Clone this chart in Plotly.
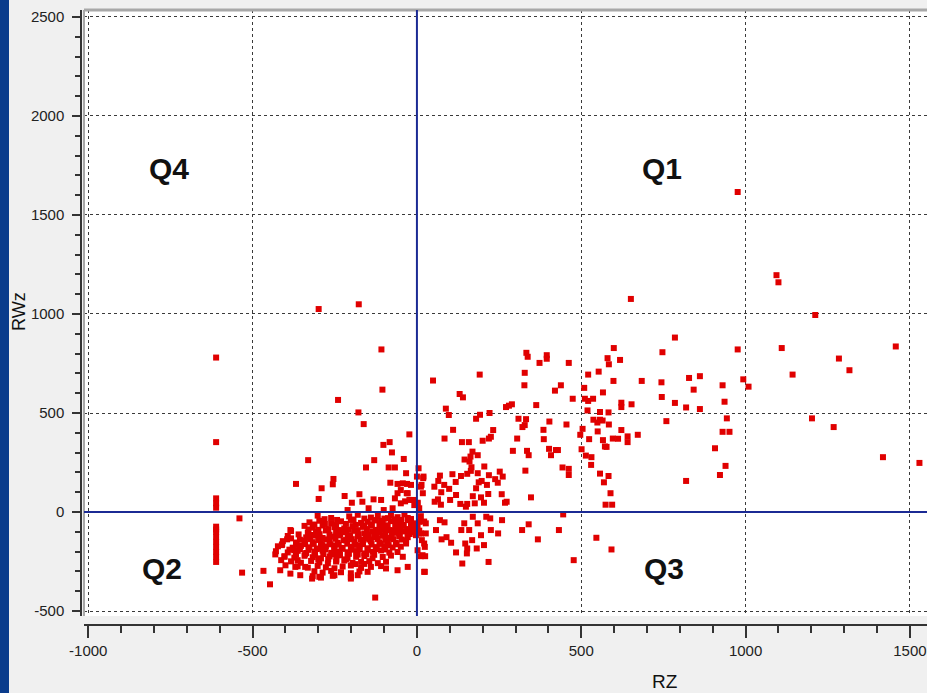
import plotly.graph_objects as go

# ---------------- data ----------------
# column of points at RZ ~ -611 (Q2)
rz_col = [-611, -611, -611, -611, -611, -611, -611, -611, -611, -611, -611, -611, -611, -611]
rwz_col = [780, 353, 69, 44, 22, -74, -100, -125, -150, -176, -201, -226, -252, -88]

# negative RZ, positive RWz (Q4 side)
rz_q4 = [-299, -177, -108, -105, -240, -178, -162, -23, -331, -254,
         -256, -290, -299, -368, -102, -83, -76, -130, -155, -86,
         -67, -40, -220, -198, -175, -166, -132, -147, -81, -59,
         -43, -18, -31, -59, -67, -49, -23, -8, -211, -109,
         -101, -74, -33, -30, -49, -28, -36, -12]
rwz_q4 = [1025, 1049, 821, 618, 566, 503, 444, 392, 262, 167,
          140, 120, 66, 142, 339, 353, 301, 262, 225, 225,
          225, 268, 81, 47, 90, 52, 64, 19, 148, 142,
          145, 137, 95, 95, 69, 44, 61, 35, 10, 61,
          10, 19, 196, 142, 111, 95, 54, 61]

# lower-left fringe of the cluster
rz_fringe = [-540, -532, -467, -447, -127, -431, -413, -416, -403, -400,
             -385, -383, -411, -373, -363, -355, -370, -385, -340, -319,
             -297, -251, -201, -180, -150, -94, -59, -28, 22, 17, 22, 12]
rwz_fringe = [-32, -306, -297, -365, -432, -214, -243, -294, -226, -269,
              -91, -133, -167, -193, -243, -319, -277, -311, -277, -336,
              -327, -319, -336, -319, -302, -285, -294, -277, -302, -218, -159, -108]

# dense core of the cluster (Q2)
rz_core = [-302, -261, -206, -180, -140, -119, -99, -79, -59, -38, -18, 12,
           -327, -297, -261, -231, -201, -170, -150, -125, -104, -79, -54, -28, -8, 22,
           -342, -317, -287, -251, -221, -196, -165, -140, -109, -89, -64, -44, -18, 2,
           -383, -332, -307, -277, -246, -216, -190, -160, -135, -114, -89, -69, -38, -13, 7,
           -393, -337, -312, -287, -261, -236, -211, -180, -155, -130, -104, -79, -54, -28, -3,
           -408, -368, -342, -317, -292, -266, -241, -216, -190, -165, -140, -114, -89, -64, -33,
           -423, -378, -353, -327, -302, -277, -251, -226, -201, -175, -150, -125, -99, -74, -49,
           -429, -393, -363, -337, -312, -287, -261, -236, -211, -185, -160, -135, -109, -84, -59,
           -403, -373, -342, -317, -292, -266, -241, -211, -185, -160, -135, -104, -79,
           -383, -353, -322, -297, -271, -246, -221, -196, -170, -145, -119, -94,
           -363, -332, -302, -277, -251, -226, -201, -170, -140, -109,
           -312, -287, -261, -231, -201, -175,
           -317, -292, -256, -201]
rwz_core = [-18, -30, -22, -14, -28, -20, -33, -16, -26, -12, -35, -21,
            -52, -44, -58, -47, -40, -55, -49, -42, -60, -46, -53, -41, -57, -48,
            -70, -79, -68, -77, -83, -71, -75, -66, -80, -72, -78, -69, -82, -74,
            -96, -104, -99, -93, -106, -101, -95, -108, -97, -103, -92, -105, -98, -102, -94,
            -121, -128, -119, -131, -124, -118, -129, -122, -133, -126, -120, -130, -123, -127, -117,
            -147, -154, -145, -152, -158, -148, -155, -143, -151, -157, -146, -153, -149, -156, -144,
            -173, -180, -171, -178, -184, -174, -169, -181, -176, -170, -183, -177, -172, -179, -175,
            -198, -204, -196, -207, -200, -195, -206, -199, -203, -197, -209, -201, -194, -205, -202,
            -223, -230, -221, -228, -234, -224, -219, -231, -226, -222, -233, -227, -220,
            -249, -256, -247, -254, -259, -250, -245, -257, -252, -248, -258, -251,
            -274, -281, -272, -279, -284, -275, -270, -282, -277, -273,
            -299, -306, -297, -304, -309, -300,
            -324, -331, -322, -329]

# extra core points that fill the gaps between the rows above
rz_fill = [-281, -243, -193, -160, -129, -109, -88, -68, -48, -28,
           -312, -280, -246, -216, -186, -160, -137, -114, -92, -66, -40, -18,
           -330, -300, -270, -236, -207, -180, -152, -125, -99, -76, -54, -30, -6,
           -360, -320, -296, -266, -233, -203, -177, -147, -122, -97, -77, -52, -22,
           -395, -356, -325, -300, -275, -248, -223, -198, -171, -145, -120, -96, -72, -46,
           -410, -366, -340, -314, -288, -263, -238, -212, -188, -164, -138, -111, -86, -62,
           -388, -356, -330, -305, -279, -252, -228, -200, -174, -150, -122, -96,
           -368, -340, -310, -285, -258, -234, -207, -180, -155, -130,
           -300, -270, -245, -216, -188, -160]
rwz_fill = [-36, -40, -38, -33, -41, -44, -31, -37, -40, -30,
            -63, -61, -66, -60, -65, -68, -62, -64, -67, -61, -65, -63,
            -88, -90, -86, -91, -89, -92, -86, -90, -87, -91, -88, -86, -90,
            -113, -116, -112, -114, -111, -117, -113, -115, -110, -116, -112, -114, -111,
            -138, -140, -136, -141, -138, -135, -142, -137, -140, -139, -136, -141, -137, -139,
            -163, -166, -162, -161, -167, -163, -165, -160, -166, -162, -164, -161, -167, -163,
            -190, -188, -191, -187, -189, -192, -186, -190, -188, -191, -187, -189,
            -215, -213, -216, -212, -214, -217, -211, -215, -213, -216,
            -240, -238, -241, -239, -263, -262]

# points just right of the origin
rz_near = [5, 0, 2, 20, 14, 18, 70, 65, 53, 83, 74, 64, 54, 73, 108, 134, 118, 98, 119, 101,
           132, 145, 160, 169, 163, 166, 164, 153, 185, 188, 197, 180, 170, 195, 153, 176, 149, 205, 213, 217,
           204, 238, 246, 252, 261, 258, 268, 273, 219, 185, 12, 19, 7, 2,
           7, 27, 7, 27, 15, 24, 12, 25, 24, 2, -10, -28, -49, -33, -43, 70, 84, 58, 75, 90,
           104, 119, 138, 152, 147, 135, 144, 159, 170, 185, 195, 182, 218, 211, 225, 223, 247, 259, 204, 168, 153]
rwz_near = [221, 179, 44, 179, 137, 95, 184, 157, 128, 137, 100, 64, 52, 37, 191, 182, 152, 117, 86, 61,
            41, 265, 255, 305, 280, 226, 208, 193, 196, 150, 157, 120, 80, 74, 41, 44, 27, 230, 137, 91,
            47, 166, 148, 204, 179, 90, 47, 52, 186, 287, 128, 171, 19, 47,
            -49, -57, -108, -108, -142, -176, -223, -223, -302, -193, -83, -108, -74, -159, -226, -41, -52, -91, -138, -127,
            -155, -204, -260, -209, -159, -91, -57, -91, -24, -57, -117, -184, -252, -24, -91, -32, -108, -41, -167, -142, -184]

# middle spread (0 < RZ < 700)
rz_mid = [49, 191, 328, 327, 420, 333, 337, 395, 395, 373, 130, 140, 363, 271, 280, 289,
          88, 97, 192, 221, 180, 309, 332, 328, 321, 403, 385, 549, 550, 577,
          110, 84, 137, 158, 200, 219, 225, 232, 305, 386, 292, 335, 340, 402, 408, 423, 429,
          330, 589, 574, 594, 347, 445, 320, 340, 368, 432, 477, 546, 592]
rwz_mid = [664, 694, 703, 640, 613, 804, 784, 792, 774, 753, 596, 579, 540, 530, 537, 544,
           522, 490, 491, 500, 471, 471, 469, 439, 429, 457, 415, 452, 407, 329,
           415, 371, 353, 353, 360, 371, 380, 414, 371, 368, 309, 309, 287, 319, 287, 313, 313,
           209, 95, 37, 37, 74, -12, -91, -62, -138, -91, -243, -130, -189]

# right spread (RZ > 430)
rz_right = [976, 1094, 1100, 651, 1212, 785, 976, 747, 1110, 1457, 599, 462, 580, 584, 618, 1284, 1316, 1143,
            521, 553, 598, 684, 744, 828, 861, 993, 1009, 930, 842, 509, 566, 438, 474, 511, 521, 536, 745,
            622, 622, 653, 785, 819, 861, 936, 519, 557, 583, 557, 565, 537, 455, 584, 943, 759, 1202, 1268,
            504, 497, 524, 566, 572, 596, 612, 641, 641, 672, 622, 930, 951, 907, 501, 514, 531, 530, 939, 922,
            1418, 1529, 443, 462, 462, 557, 583, 569, 819]
rwz_right = [1616, 1196, 1160, 1076, 995, 881, 821, 807, 828, 836, 828, 753, 777, 746, 768, 775, 716, 694,
             694, 709, 662, 662, 655, 677, 686, 670, 633, 640, 618, 627, 604, 640, 572, 572, 561, 572, 581,
             552, 530, 544, 551, 528, 520, 557, 513, 505, 503, 466, 462, 466, 442, 442, 473, 459, 473, 429,
             420, 390, 368, 363, 331, 371, 370, 382, 353, 390, 414, 405, 405, 322, 317, 285, 277, 238, 233, 187,
             277, 248, 225, 218, 187, 194, 182, 150, 157]

groups = [(rz_col, rwz_col), (rz_q4, rwz_q4), (rz_fringe, rwz_fringe), (rz_core, rwz_core),
          (rz_fill, rwz_fill), (rz_near, rwz_near), (rz_mid, rwz_mid), (rz_right, rwz_right)]
for i, (a, b) in enumerate(groups):
    assert len(a) == len(b), (i, len(a), len(b))

rz_all = [v for a, _ in groups for v in a]
rwz_all = [v for _, b in groups for v in b]

x_ticks = [-1000, -500, 0, 500, 1000, 1500]
y_ticks = [-500, 0, 500, 1000, 1500, 2000, 2500]
quadrants = [("Q4", -754, 1733), ("Q1", 745, 1733), ("Q2", -775, -284), ("Q3", 751, -284)]

# ---------------- figure ----------------
W, H = 927, 693
ML, MR, MT, MB = 40, 0, 10, 40
pw, ph = W - ML - MR, H - MT - MB


def px_x(p):
    return (p - ML) / pw


def px_y(p):
    return (H - MB - p) / ph


x_range = [-1013, 1552]
y_range = [-525, 2535]
tick_font = dict(family="Liberation Sans Narrow, Arial Narrow, Liberation Sans, sans-serif", size=15, color="#222")
q_font = "Liberation Sans Narrow, Arial Narrow, Liberation Sans, sans-serif"
grid_col = "#3a3a3a"

fig = go.Figure()
fig.add_trace(go.Scatter(
    x=rz_all, y=rwz_all, mode="markers",
    marker=dict(symbol="square", size=6, color="#e00000", line=dict(width=0)),
    showlegend=False, hoverinfo="skip"))
fig.add_trace(go.Scatter(x=[None], y=[None], xaxis="x2", yaxis="y2",
                         mode="markers", showlegend=False, hoverinfo="skip"))

fig.update_layout(
    width=W, height=H,
    margin=dict(l=ML, r=MR, t=MT, b=MB, pad=0, autoexpand=False),
    paper_bgcolor="#f0f0f0", plot_bgcolor="white",
    xaxis=dict(domain=[px_x(84), 1], range=x_range, tickvals=x_ticks, showticklabels=False,
               showgrid=True, gridcolor=grid_col, gridwidth=1.3, griddash="3px,3px",
               zeroline=False, showline=False, ticks="", automargin=False),
    yaxis=dict(domain=[px_y(616), 1], range=y_range, tickvals=y_ticks, showticklabels=False,
               showgrid=True, gridcolor=grid_col, gridwidth=1.3, griddash="3px,3px",
               zeroline=False, showline=False, ticks="", automargin=False),
    xaxis2=dict(overlaying="x", anchor="free", position=px_y(625), range=x_range,
                tickvals=x_ticks, ticktext=[str(v) for v in x_ticks], automargin=False,
                showgrid=False, zeroline=False, showline=True, linecolor="#333", linewidth=1.5,
                ticks="outside", ticklen=12, tickwidth=1.5, tickcolor="#333", tickfont=tick_font,
                minor=dict(ticks="outside", ticklen=7, tickwidth=1.5, tickcolor="#333", dtick=100, showgrid=False)),
    yaxis2=dict(overlaying="y", anchor="free", position=px_x(81), side="left", range=y_range,
                tickvals=y_ticks, ticktext=[str(v) for v in y_ticks], automargin=False,
                showgrid=False, zeroline=False, showline=True, linecolor="#333", linewidth=1.5,
                ticks="outside", ticklen=8, tickwidth=1.5, tickcolor="#333", tickfont=tick_font,
                ticklabelstandoff=5,
                minor=dict(ticks="outside", ticklen=5, tickwidth=1.5, tickcolor="#333", dtick=100, showgrid=False)),
)

shapes = [
    # left blue strip of the screenshot
    dict(type="rect", xref="paper", yref="paper", x0=px_x(-5), x1=px_x(9), y0=px_y(H + 5), y1=px_y(-5),
         fillcolor="#0a3c8c", line=dict(width=0), layer="above"),
    # plot frame (top and left)
    dict(type="line", xref="x domain", yref="y domain", x0=0, x1=1, y0=1, y1=1,
         line=dict(color="#a8a8a8", width=3)),
    dict(type="line", xref="x domain", yref="y domain", x0=0, x1=0, y0=0, y1=1,
         line=dict(color="#a8a8a8", width=2)),
    # quadrant axes
    dict(type="line", xref="x", yref="y domain", x0=0, x1=0, y0=0, y1=1,
         line=dict(color="#1b2a94", width=2)),
    dict(type="line", xref="x domain", yref="y", x0=0, x1=1, y0=0, y1=0,
         line=dict(color="#1b2a94", width=2)),
]
fig.update_layout(shapes=shapes)

annotations = []
for label, qx, qy in quadrants:
    annotations.append(dict(x=qx, y=qy, xref="x", yref="y", text="<b>%s</b>" % label, showarrow=False,
                            xanchor="center", yanchor="middle",
                            font=dict(family=q_font, size=30, color="#111")))
annotations.append(dict(x=px_x(665), y=px_y(681), xref="paper", yref="paper", text="RZ", showarrow=False,
                        xanchor="center", yanchor="middle",
                        font=dict(family=q_font, size=19, color="#111")))
annotations.append(dict(x=px_x(19), y=px_y(312), xref="paper", yref="paper", text="RWz", showarrow=False,
                        xanchor="center", yanchor="middle",
                        textangle=-90, font=dict(family=q_font, size=18, color="#111")))
fig.update_layout(annotations=annotations)

fig.write_html("out.html", config={"displayModeBar": False},
               post_script="document.body.style.margin='0';document.body.style.overflow='hidden';")
